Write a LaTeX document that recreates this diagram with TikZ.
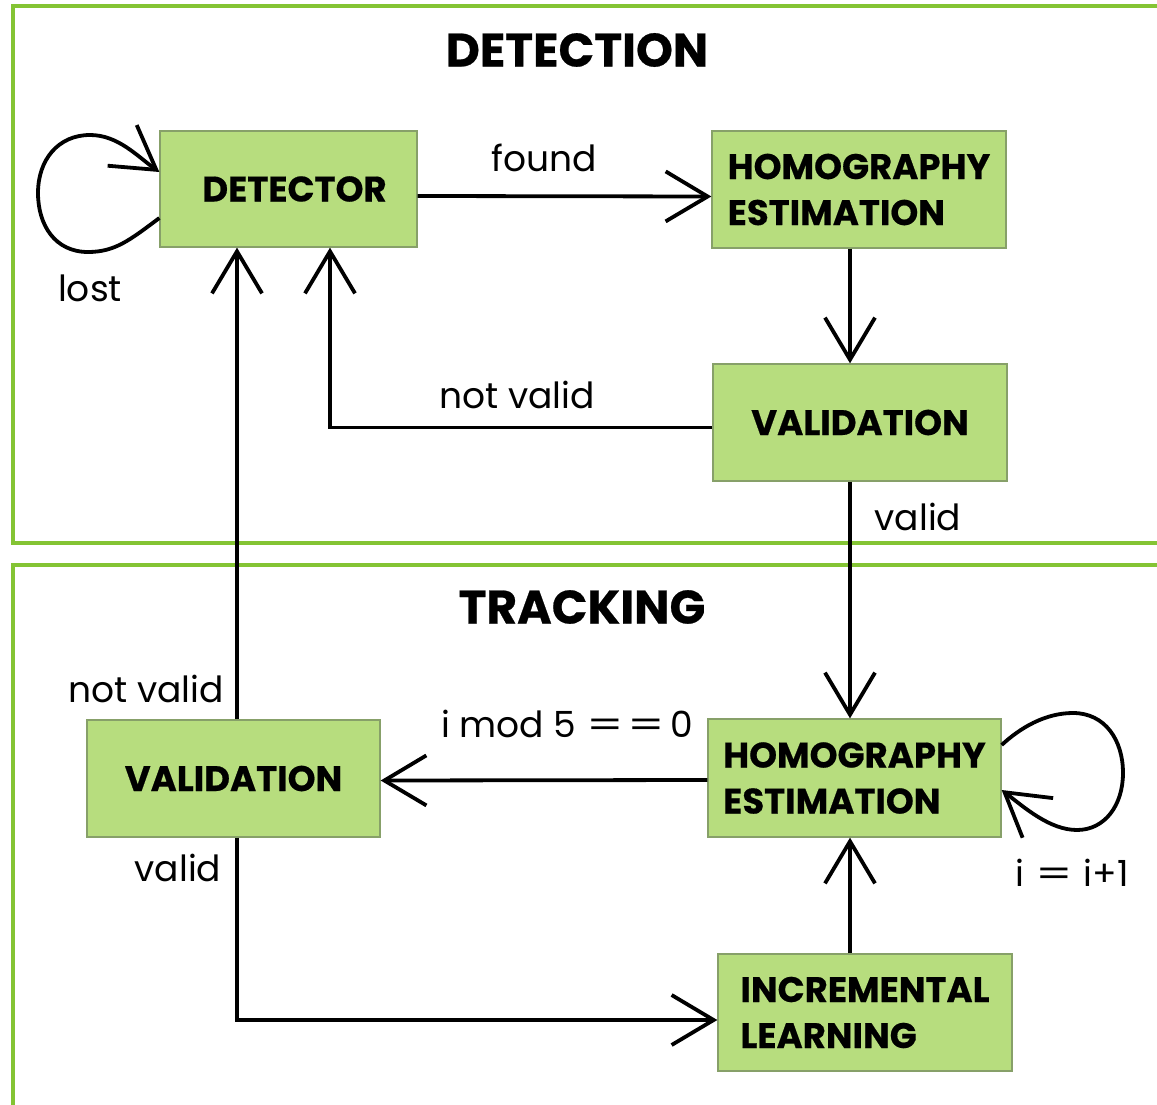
\documentclass[tikz,border=0pt]{standalone}
\usepackage{fontspec}
\usepackage{graphicx}
\setmainfont[BoldFeatures={FakeBold=0.5}]{Poppins}
\usetikzlibrary{arrows.meta}
\definecolor{framegreen}{RGB}{132,196,52}
\definecolor{boxfill}{RGB}{183,221,126}
\definecolor{boxline}{RGB}{135,160,105}
\newcommand{\weq}{\scalebox{1.45}[1]{=}}
\begin{document}
\begin{tikzpicture}[x=1pt,y=-1pt,
  box/.style={draw=boxline, line width=1.3pt, fill=boxfill, inner sep=0pt,
    font=\bfseries\fontsize{35.5}{46}\selectfont, align=left},
  frame/.style={draw=framegreen, line width=3.2pt},
  conn/.style={line width=3.8pt, -{Straight Barb[length=42pt,width=50pt]}},
  lbl/.style={font=\fontsize{36}{40}\selectfont, inner sep=0pt},
  title/.style={font=\bfseries\fontsize{47}{56}\selectfont, inner sep=0pt}]
\useasboundingbox (0,0) rectangle (1157,1105);
% frames
\draw[frame] (13,6) rectangle (1190,543);
\draw[frame] (13,565) rectangle (1190,1140);
\node[title] (tdet) at (577,50) {DETECTION};
\node[title] (ttrk) at (582,607) {TRACKING};
% boxes
\node[box, minimum width=257pt, minimum height=116pt] (det) at (288.5,189) {\hspace*{12pt}DETECTOR};
\node[box, minimum width=294pt, minimum height=117pt] (he1) at (859,189.5) {\raisebox{-4pt}{HOMOGRAPHY}\\\raisebox{-4pt}{ESTIMATION}};
\node[box, minimum width=294pt, minimum height=117pt] (val1) at (860,422.5) {VALIDATION};
\node[box, minimum width=293pt, minimum height=118pt] (he2) at (854.5,778) {\raisebox{-4pt}{HOMOGRAPHY}\\\raisebox{-4pt}{ESTIMATION}};
\node[box, minimum width=293pt, minimum height=117pt] (val2) at (233.5,778.5) {VALIDATION};
\node[box, minimum width=294pt, minimum height=117pt] (inc) at (865,1012.5) {\raisebox{-3pt}{INCREMENTAL}\\\raisebox{-3pt}{LEARNING}};
% helper coordinates
\coordinate (cx) at (850,0);
\coordinate (c330) at (330,0);
\coordinate (c237) at (237,0);
% connectors
\draw[conn] ([yshift=-7pt]det.east) -- ([yshift=-7pt]he1.west);
\draw[conn] (he1.south -| cx) -- (val1.north -| cx);
\draw[conn] ([yshift=-5pt]val1.west) -| (det.south -| c330);
\draw[conn] (val1.south -| cx) -- (he2.north -| cx);
\draw[conn] ([yshift=-2pt]he2.west) -- ([yshift=-2pt]val2.east);
\draw[conn] (val2.north -| c237) -- (det.south -| c237);
\draw[conn] (val2.south -| c237) |- ([yshift=-7.5pt]inc.west);
\draw[conn] (inc.north -| cx) -- (he2.south -| cx);
% self loops
\draw[conn] ([yshift=-29pt]det.west) .. controls (130,240) and (115,252) .. (88,252)
  .. controls (55,252) and (38,225) .. (38,193)
  .. controls (38,160) and (58,135) .. (90,135)
  .. controls (118,135) and (137,156) .. ([yshift=17pt]det.west);
\draw[conn] ([yshift=33pt]he2.east) .. controls (1020,728) and (1045,713) .. (1073,713)
  .. controls (1105,713) and (1123,740) .. (1123,773)
  .. controls (1123,805) and (1105,830) .. (1077,830)
  .. controls (1050,830) and (1025,808) .. ([yshift=-12pt]he2.east);
% labels
\node[lbl] (lfound) at (544,158) {found};
\node[lbl] (llost) at (90,288) {lost};
\node[lbl] (lnv1) at (517,395) {not valid};
\node[lbl] (lv1) at (918,517) {valid};
\node[lbl] (lnv2) at (146,689) {not valid};
\node[lbl] (lmod) at (567,724) {i mod 5\hspace{10pt}\weq\hspace{3pt}\weq\hspace{5pt}0};
\node[lbl] (lv2) at (178,868) {valid};
\node[lbl] (linc) at (1072,873) {i\hspace{11pt}\weq\hspace{11pt}i+1};
\end{tikzpicture}
\end{document}
